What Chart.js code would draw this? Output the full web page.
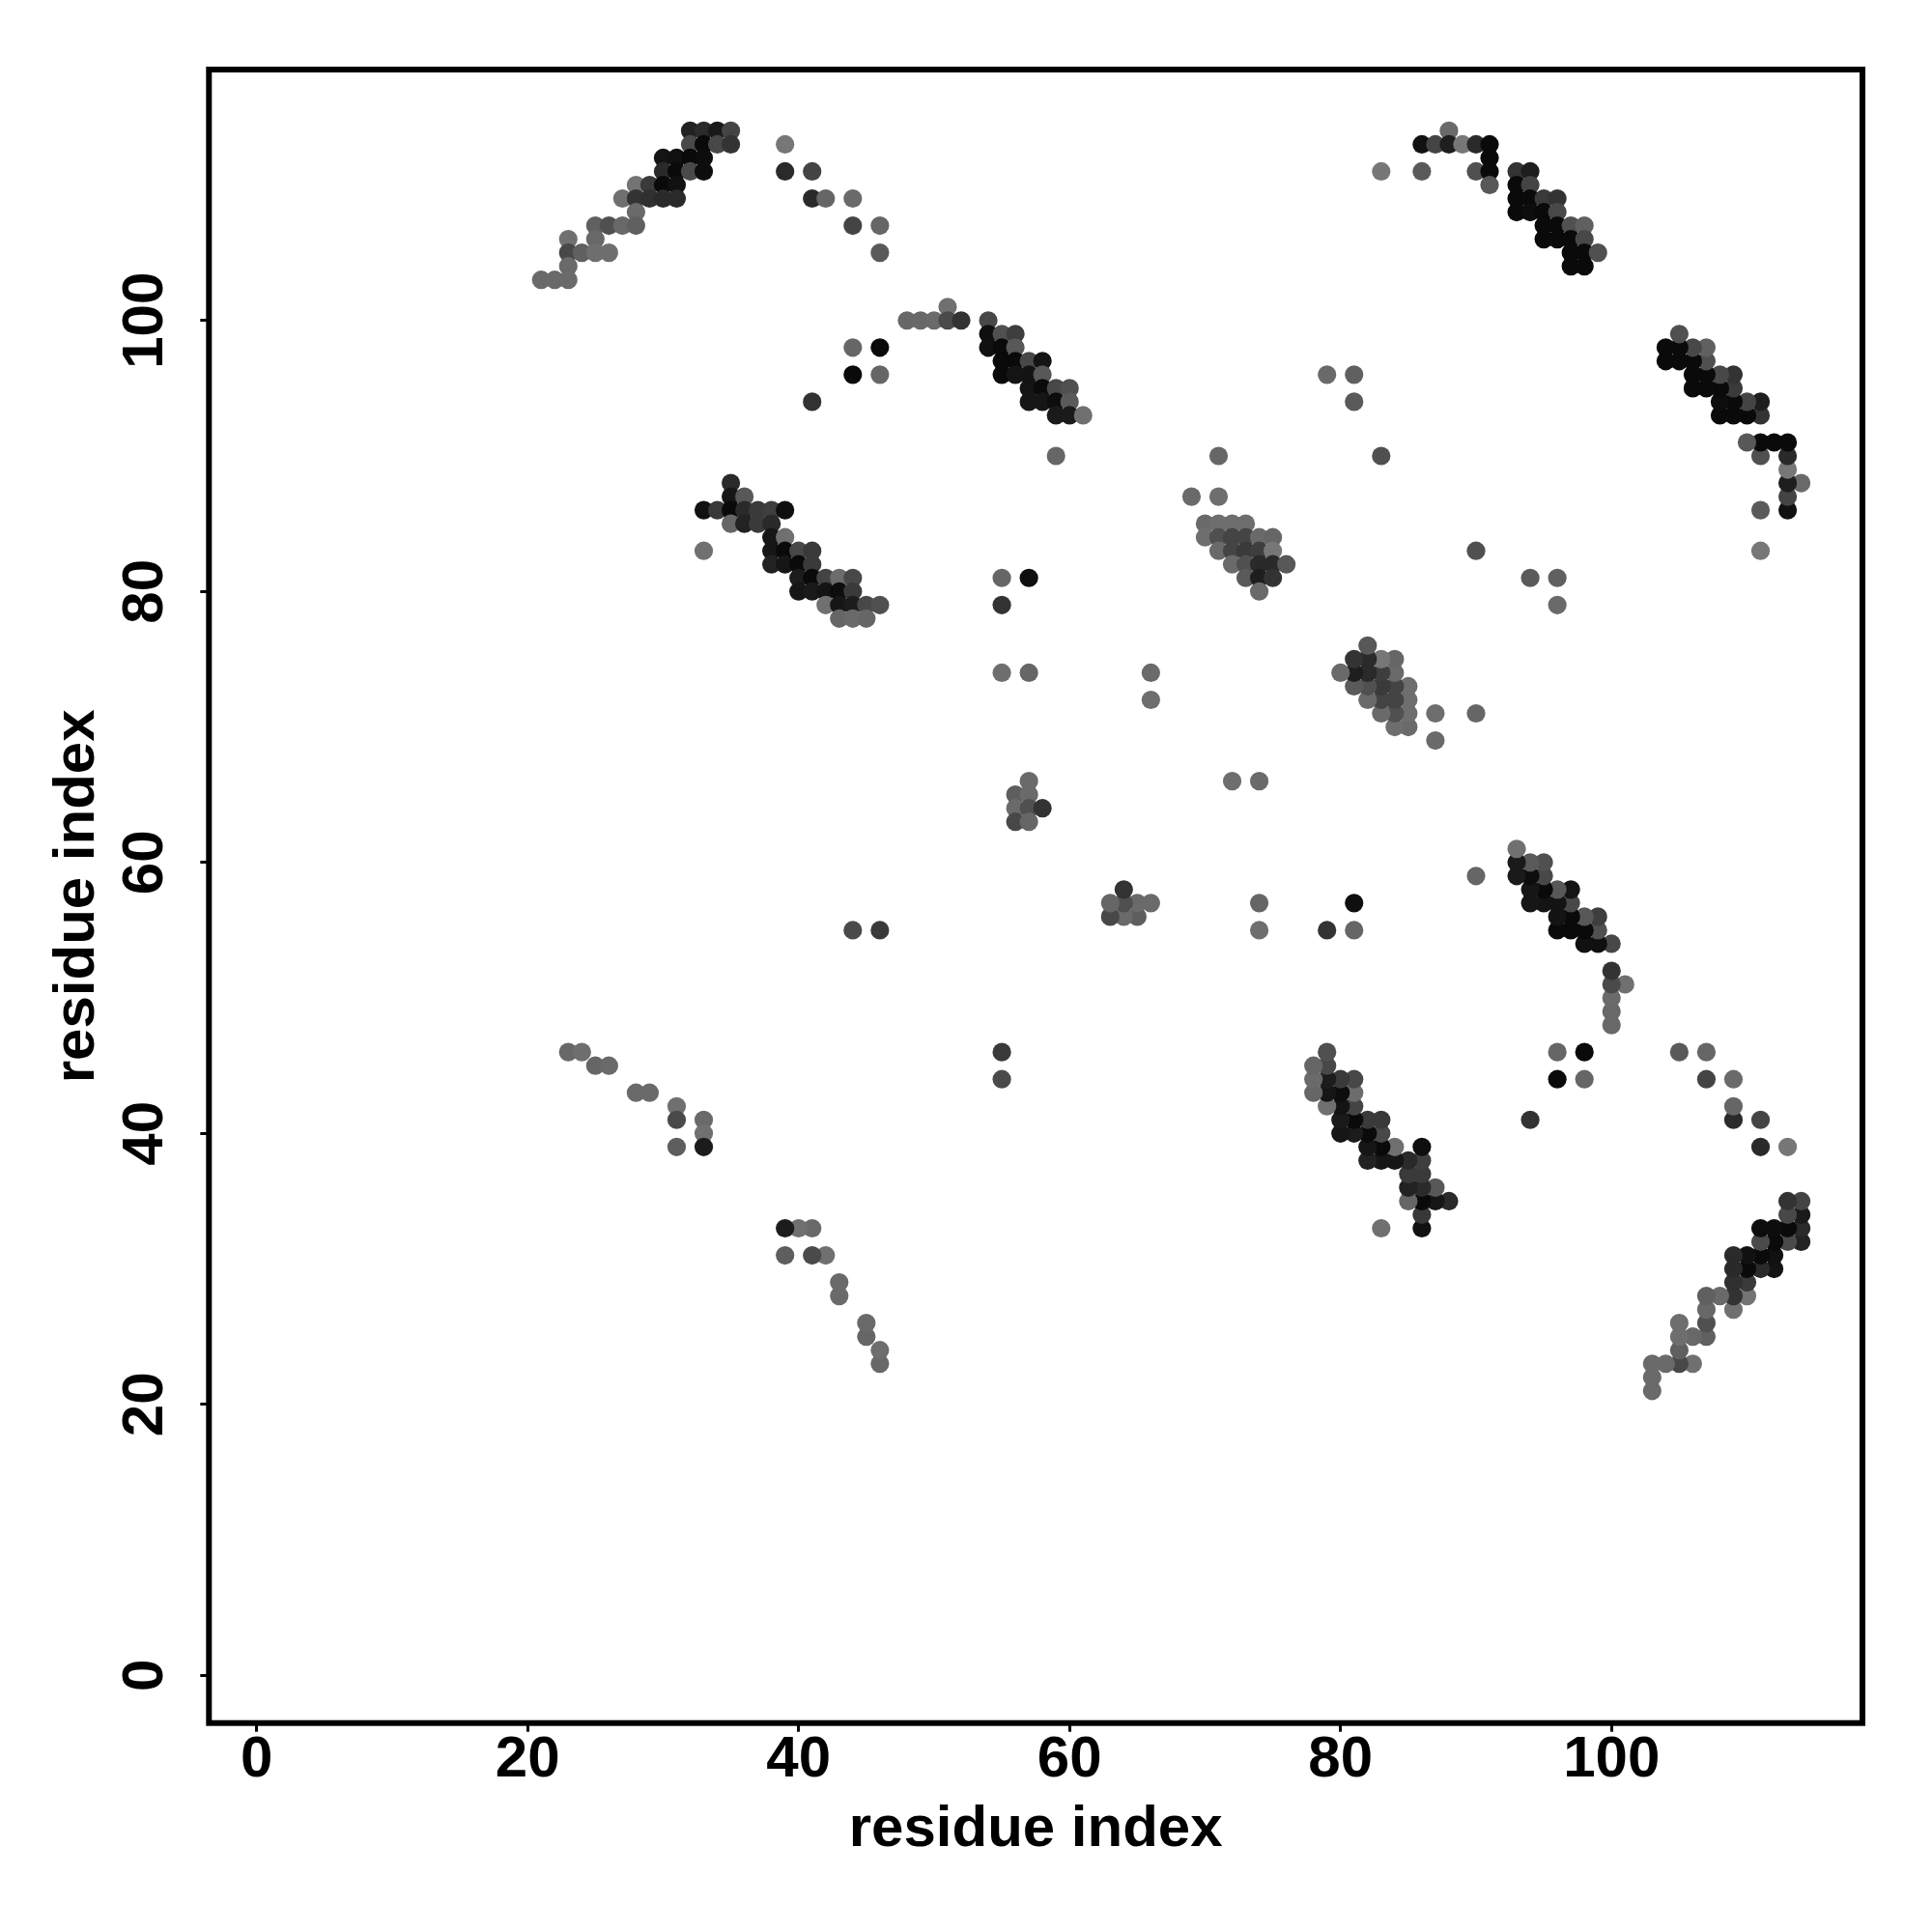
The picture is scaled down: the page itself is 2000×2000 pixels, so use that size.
<!DOCTYPE html>
<html>
<head>
<meta charset="utf-8">
<title>residue contact map</title>
<script src="https://cdn.jsdelivr.net/npm/chart.js@4"></script>
<style>
    html, body { margin: 0; padding: 0; background: #fff; }
    canvas { display: block; }
</style>
</head>
<body>
<canvas id="contactMap" width="2000" height="2000"></canvas>
<script>
// Contact map is symmetric, so only the half with x < y is listed, row by row
const rowY = [114, 113, 112, 111, 110, 109, 108, 107, 106, 105, 104, 103, 101, 100, 99, 98, 97, 96, 95, 94, 93, 90, 88, 87, 86, 85, 84, 83, 82, 81, 80, 79, 78, 74, 72, 66, 65, 64, 63, 55, 46, 45, 43, 42, 41, 40, 39];
const rowX = [
    [32, 33, 34, 35, 88],
    [32, 33, 34, 35, 39, 86, 87, 88, 89, 90, 91],
    [30, 31, 32, 33, 91],
    [30, 31, 32, 33, 39, 41, 83, 86, 90, 91, 93, 94],
    [28, 29, 30, 31, 91, 93, 94],
    [27, 28, 29, 30, 31, 41, 42, 44, 93, 94, 95, 96],
    [28, 93, 94, 95, 96],
    [25, 26, 27, 28, 44, 46, 95, 96, 97, 98],
    [23, 25, 95, 96, 97, 98],
    [23, 24, 25, 26, 46, 97, 98, 99],
    [23, 97, 98],
    [21, 22, 23],
    [51],
    [48, 49, 50, 51, 52, 54],
    [54, 55, 56],
    [44, 46, 54, 55, 56],
    [55, 56, 57, 58],
    [44, 46, 55, 56, 57, 58, 79, 81],
    [57, 58, 59, 60],
    [41, 57, 58, 59, 60, 81],
    [59, 60, 61],
    [59, 71, 83],
    [35],
    [35, 36, 69, 71],
    [33, 34, 35, 36, 37, 38, 39],
    [35, 36, 37, 38, 70, 71, 72, 73],
    [38, 39, 70, 71, 72, 73, 74, 75],
    [33, 38, 39, 40, 41, 71, 72, 73, 74, 75],
    [38, 39, 40, 41, 72, 73, 74, 75, 76],
    [40, 41, 42, 43, 44, 55, 57, 73, 74, 75],
    [40, 41, 42, 43, 44, 74],
    [42, 43, 44, 45, 46, 55],
    [43, 44, 45],
    [55, 57, 66],
    [66],
    [57],
    [56, 57],
    [56, 57, 58],
    [56, 57],
    [44, 46],
    [23, 24],
    [25, 26],
    [28, 29],
    [31],
    [31, 33],
    [33],
    [31, 33]
];
// Grey level of each dot, same shape as rowX
const rowShade = [
    [34, 42, 26, 68, 106],
    [74, 10, 72, 51, 119, 17, 68, 30, 119, 42, 10],
    [20, 17, 10, 13, 10],
    [42, 10, 74, 13, 42, 68, 119, 90, 80, 10, 51, 30],
    [116, 58, 10, 17, 88, 10, 68],
    [112, 51, 48, 42, 42, 42, 102, 106, 10, 10, 58, 51],
    [106, 10, 13, 10, 72],
    [96, 80, 104, 96, 68, 102, 10, 10, 80, 96],
    [112, 104, 10, 10, 10, 72],
    [72, 96, 110, 110, 90, 10, 10, 80],
    [106, 10, 10],
    [106, 106, 106],
    [112],
    [104, 104, 106, 74, 51, 72],
    [15, 80, 62],
    [102, 10, 17, 10, 88],
    [10, 10, 72, 20],
    [10, 102, 10, 20, 20, 88, 106, 96],
    [20, 10, 72, 80],
    [51, 22, 22, 13, 90, 90],
    [26, 26, 112],
    [102, 102, 80],
    [42],
    [22, 88, 106, 110],
    [17, 56, 10, 42, 58, 62, 15],
    [102, 34, 58, 42, 106, 110, 110, 110],
    [22, 112, 110, 80, 68, 68, 106, 102],
    [112, 22, 10, 72, 58, 106, 68, 58, 62, 119],
    [34, 22, 10, 58, 106, 80, 42, 42, 88],
    [28, 10, 68, 108, 72, 102, 15, 90, 30, 51],
    [22, 26, 20, 13, 58, 106],
    [112, 22, 28, 72, 80, 51],
    [102, 106, 102],
    [110, 102, 106],
    [110],
    [106],
    [94, 106],
    [106, 80, 51],
    [72, 102],
    [74, 58],
    [104, 110],
    [102, 106],
    [106, 106],
    [112],
    [74, 106],
    [112],
    [94, 28]
];
const tickValues = [0, 20, 40, 60, 80, 100];
const axisLabel = 'residue index';

// Flatten the rows and add the mirrored half
const points = [];
const colors = [];
rowY.forEach((y, r) => {
    rowX[r].forEach((x, c) => {
        const g = rowShade[r][c];
        const color = `rgb(${g},${g},${g})`;
        points.push({ x: x, y: y });
        colors.push(color);
        points.push({ x: y, y: x });
        colors.push(color);
    });
});

const labelFont = { family: '"Liberation Sans"', size: 60, weight: 'bold' };

// R style box round the plot
const boxPlugin = {
    id: 'box',
    afterDatasetsDraw(chart) {
        const { ctx, chartArea } = chart;
        ctx.save();
        ctx.strokeStyle = '#000';
        ctx.lineWidth = 6;
        ctx.strokeRect(chartArea.left, chartArea.top, chartArea.right - chartArea.left, chartArea.bottom - chartArea.top);
        ctx.restore();
    }
};

function setTicks(scale) {
    scale.ticks = tickValues.map(v => ({ value: v }));
}

new Chart(document.getElementById('contactMap'), {
    type: 'scatter',
    data: {
        datasets: [{
            data: points,
            pointRadius: 9.6,
            pointBorderWidth: 0,
            pointBackgroundColor: colors
        }]
    },
    options: {
        responsive: false,
        animation: false,
        devicePixelRatio: 1,
        layout: { padding: { top: 72, right: 72, left: 0, bottom: 0 } },
        plugins: { legend: { display: false }, tooltip: { enabled: false } },
        scales: {
            x: {
                type: 'linear',
                min: -3.52,
                max: 118.52,
                afterBuildTicks: setTicks,
                afterFit(scale) { scale.height = 216.3; },
                border: { display: false },
                grid: { drawOnChartArea: false, tickLength: 9, tickWidth: 3, tickColor: '#000' },
                ticks: { color: '#000', font: labelFont, padding: -6, autoSkip: false, maxRotation: 0 },
                title: { display: true, text: axisLabel, color: '#000', font: labelFont, padding: { top: 0, bottom: 70 } }
            },
            y: {
                type: 'linear',
                min: -3.52,
                max: 118.52,
                afterBuildTicks: setTicks,
                afterFit(scale) { scale.width = 216.3; },
                border: { display: false },
                grid: { drawOnChartArea: false, tickLength: 9, tickWidth: 3, tickColor: '#000' },
                ticks: { color: '#000', font: labelFont, padding: 6, autoSkip: false, minRotation: 90, maxRotation: 90, crossAlign: 'center' },
                title: { display: true, text: axisLabel, color: '#000', font: labelFont, padding: { top: 44, bottom: 0 } }
            }
        }
    },
    plugins: [boxPlugin]
});
</script>
</body>
</html>
